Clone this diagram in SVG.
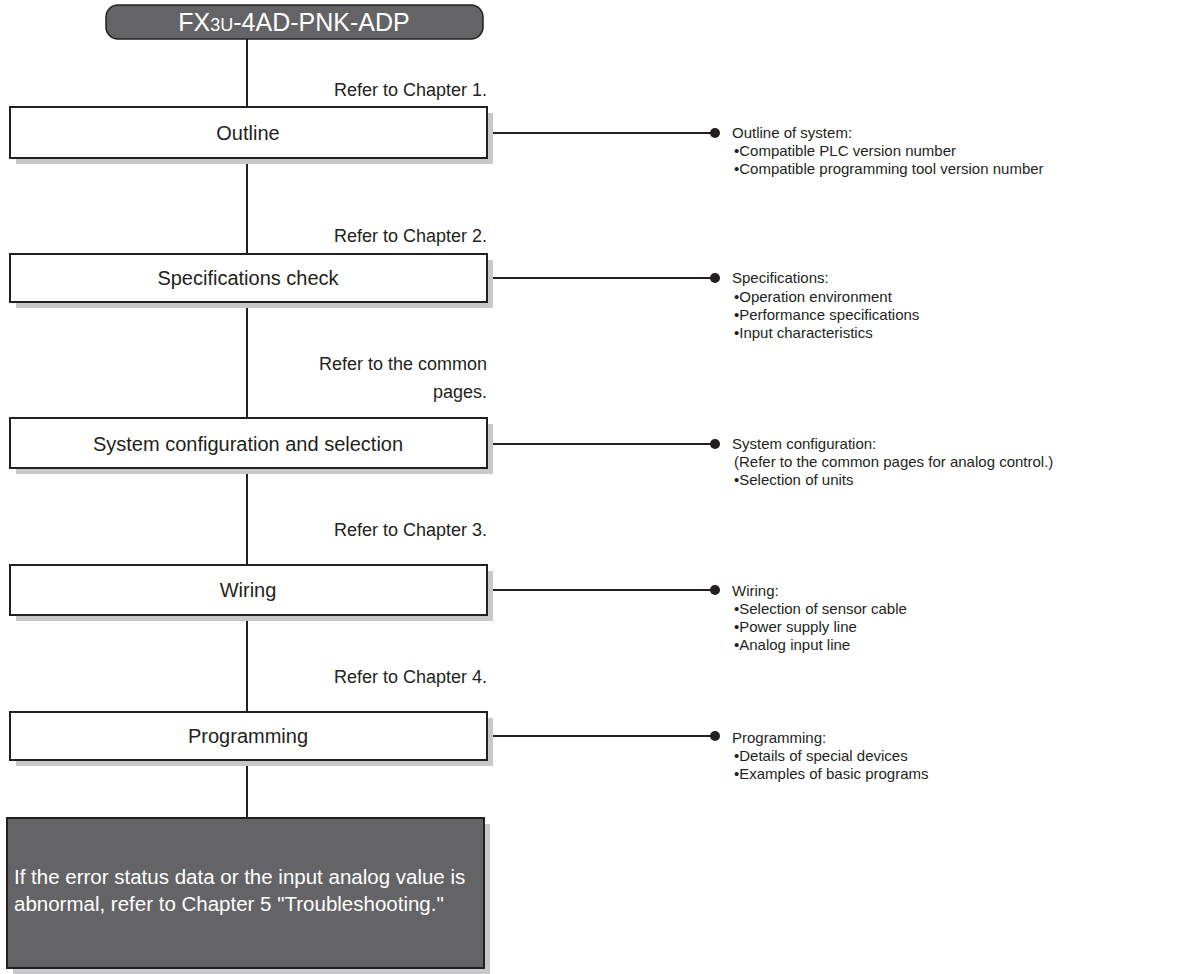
<svg xmlns="http://www.w3.org/2000/svg" width="1202" height="974" viewBox="0 0 1202 974">
<style>
.t{font-family:"Liberation Sans",Arial,sans-serif;fill:#231f20}
.box{fill:#fff;stroke:#231f20;stroke-width:2}
.sh{fill:#c8c8ca}
.ln{stroke:#231f20;stroke-width:2;fill:none}
.lbl{font-size:20px;text-anchor:middle}
.ref{font-size:18px;text-anchor:end}
.side{font-size:15px}
</style>
<rect width="1202" height="974" fill="#fff"/>
<g id="connectors">
<line class="ln" x1="247" y1="39" x2="247" y2="107"/>
<line class="ln" x1="247" y1="164" x2="247" y2="254"/>
<line class="ln" x1="247" y1="308" x2="247" y2="418"/>
<line class="ln" x1="247" y1="474" x2="247" y2="565"/>
<line class="ln" x1="247" y1="621" x2="247" y2="712"/>
<line class="ln" x1="247" y1="766" x2="247" y2="818"/>
<g class="ln"><line x1="487" y1="133" x2="712" y2="133"/><line x1="487" y1="278" x2="712" y2="278"/><line x1="487" y1="444" x2="712" y2="444"/><line x1="487" y1="590" x2="712" y2="590"/><line x1="487" y1="736" x2="712" y2="736"/></g>
<g fill="#231f20"><circle cx="715" cy="133" r="5"/><circle cx="715" cy="278" r="5"/><circle cx="715" cy="444" r="5"/><circle cx="715" cy="590" r="5"/><circle cx="715" cy="736" r="5"/></g>
<g class="t ref"><text x="487" y="96">Refer to Chapter 1.</text><text x="487" y="242">Refer to Chapter 2.</text><text x="487" y="370">Refer to the common</text><text x="487" y="398">pages.</text><text x="487" y="536">Refer to Chapter 3.</text><text x="487" y="683">Refer to Chapter 4.</text></g>
</g>
<g id="title"><rect x="106" y="5" width="377" height="34" rx="12" fill="#646466" stroke="#231f20" stroke-width="1.5"/><text x="294" y="31" font-family="Liberation Sans,Arial,sans-serif" font-size="25" fill="#fff" text-anchor="middle">FX<tspan font-size="18">3U</tspan>-4AD-PNK-ADP</text></g>
<g id="outline"><rect class="sh" x="16" y="113" width="477" height="51"/><rect class="box" x="10" y="107" width="477" height="51"/><text class="t lbl" x="248" y="140">Outline</text>
<g class="t side"><text x="732" y="138">Outline of system:</text><text x="734" y="156">•Compatible PLC version number</text><text x="734" y="174">•Compatible programming tool version number</text></g></g>
<g id="specs"><rect class="sh" x="16" y="260" width="477" height="48"/><rect class="box" x="10" y="254" width="477" height="48"/><text class="t lbl" x="248" y="285">Specifications check</text>
<g class="t side"><text x="732" y="283">Specifications:</text><text x="734" y="302">•Operation environment</text><text x="734" y="320">•Performance specifications</text><text x="734" y="338">•Input characteristics</text></g></g>
<g id="system"><rect class="sh" x="16" y="424" width="477" height="50"/><rect class="box" x="10" y="418" width="477" height="50"/><text class="t lbl" x="248" y="451">System configuration and selection</text>
<g class="t side"><text x="732" y="449">System configuration:</text><text x="734" y="467">(Refer to the common pages for analog control.)</text><text x="734" y="485">•Selection of units</text></g></g>
<g id="wiring"><rect class="sh" x="16" y="571" width="477" height="50"/><rect class="box" x="10" y="565" width="477" height="50"/><text class="t lbl" x="248" y="597">Wiring</text>
<g class="t side"><text x="732" y="596">Wiring:</text><text x="734" y="614">•Selection of sensor cable</text><text x="734" y="632">•Power supply line</text><text x="734" y="650">•Analog input line</text></g></g>
<g id="programming"><rect class="sh" x="16" y="718" width="477" height="48"/><rect class="box" x="10" y="712" width="477" height="48"/><text class="t lbl" x="248" y="743">Programming</text>
<g class="t side"><text x="732" y="743">Programming:</text><text x="734" y="761">•Details of special devices</text><text x="734" y="779">•Examples of basic programs</text></g></g>
<g id="trouble"><rect class="sh" x="13" y="824" width="477" height="150"/><rect x="7" y="818" width="477" height="150" fill="#646466" stroke="#231f20" stroke-width="2"/><g font-family="Liberation Sans,Arial,sans-serif" font-size="20.5" fill="#fff"><text x="14" y="884">If the error status data or the input analog value is</text><text x="14" y="911">abnormal, refer to Chapter 5 "Troubleshooting."</text></g></g>
</svg>
